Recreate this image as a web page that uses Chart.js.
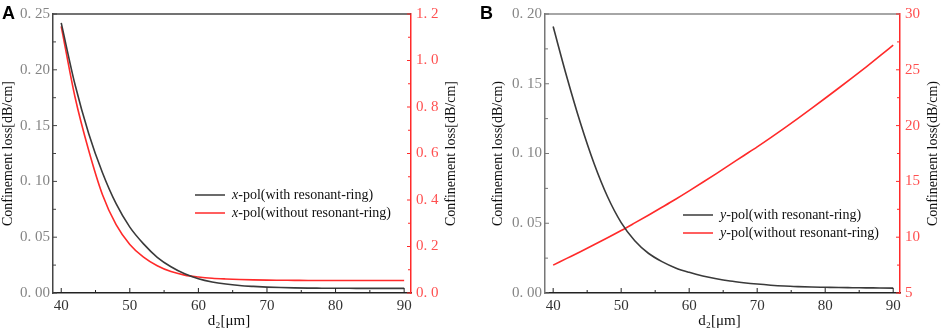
<!DOCTYPE html>
<html>
<head>
<meta charset="utf-8">
<script src="https://cdn.jsdelivr.net/npm/chart.js@4.4.0/dist/chart.umd.min.js"></script>
<style>
  body { margin: 0; background: #fff; width: 941px; height: 329px; overflow: hidden; position: relative; }
  .panel { position: absolute; top: 0; height: 329px; }
  #pa { left: 0; width: 470px; }
  #pb { left: 470px; width: 471px; }
</style>
</head>
<body>
<div class="panel" id="pa"><canvas id="ca"></canvas></div>
<div class="panel" id="pb"><canvas id="cb"></canvas></div>
<script>
// d2 values (um), shared by both panels
const d2 = [40, 42, 44, 46, 48, 50, 52, 54, 56, 58, 60, 62, 64, 66, 68, 70, 72, 74, 76, 78, 80, 82, 84, 86, 88, 90];

// panel A: x-pol
const xPolWithRing = [0.242, 0.187, 0.143, 0.108, 0.080, 0.059, 0.044, 0.032, 0.0235, 0.0172, 0.0128, 0.0099, 0.0080, 0.0067, 0.0059, 0.0053,
  0.0049, 0.0046, 0.0044, 0.0043, 0.0042, 0.0042, 0.0041, 0.0041, 0.0041, 0.0041];
const xPolWithoutRing = [1.147, 0.844, 0.614, 0.424, 0.294, 0.209, 0.154, 0.117, 0.092, 0.077, 0.069, 0.0635, 0.0603, 0.058, 0.0565, 0.0555,
  0.055, 0.0545, 0.054, 0.054, 0.054, 0.054, 0.054, 0.054, 0.054, 0.054];

// panel B: y-pol
const yPolWithRing = [0.191, 0.155, 0.122, 0.093, 0.069, 0.0505, 0.0375, 0.0285, 0.0225, 0.018, 0.0148, 0.0122, 0.0102, 0.0086, 0.0074, 0.0064,
  0.0056, 0.0050, 0.0046, 0.0043, 0.0041, 0.0039, 0.0038, 0.0037, 0.0036, 0.0035];
const yPolWithoutRing = [7.5, 8.1, 8.7, 9.32, 9.95, 10.6, 11.28, 11.97, 12.68, 13.4, 14.15, 14.92, 15.7, 16.5, 17.3, 18.1,
  18.93, 19.78, 20.65, 21.54, 22.45, 23.37, 24.3, 25.25, 26.22, 27.2];

// tick values
const xTicks = [40, 50, 60, 70, 80, 90];
const leftTicksA = [0, 0.05, 0.10, 0.15, 0.20, 0.25];
const rightTicksA = [0, 0.2, 0.4, 0.6, 0.8, 1.0, 1.2];
const leftTicksB = [0, 0.05, 0.10, 0.15, 0.20];
const rightTicksB = [5, 10, 15, 20, 25, 30];

const SERIF = '"Liberation Serif", "DejaVu Serif", serif';
const RED = '#ff2a2a';

function pts(ys) {
  return d2.map((x, i) => ({ x: x, y: ys[i] }));
}

function line(ctx, x1, y1, x2, y2) {
  ctx.beginPath();
  ctx.moveTo(x1, y1);
  ctx.lineTo(x2, y2);
  ctx.stroke();
}

function decor(opt) {
  return {
    id: 'decor',
    afterDraw(chart) {
      const ctx = chart.ctx;
      const a = chart.chartArea;
      const sx = chart.scales.x, sy = chart.scales.y, sy2 = chart.scales.y2;
      ctx.save();

      // top frame line
      ctx.strokeStyle = opt.topColor;
      ctx.lineWidth = 1.5;
      line(ctx, a.left, a.top, a.right, a.top);

      // inward tick marks
      ctx.lineWidth = 1;
      ctx.strokeStyle = '#222';
      for (let v = 40; v <= 90; v += 5) {
        const p = sx.getPixelForValue(v);
        line(ctx, p, a.bottom, p, a.bottom - (v % 10 === 0 ? 5 : 3));
      }
      ctx.strokeStyle = opt.leftColor;
      for (let i = 0; i <= opt.leftMinorCount; i++) {
        const v = sy.min + i * opt.leftMinor;
        const p = sy.getPixelForValue(v);
        line(ctx, a.left, p, a.left + (i % 2 === 0 ? 4 : 3), p);
      }
      ctx.strokeStyle = RED;
      for (let i = 0; i <= opt.rightMinorCount; i++) {
        const v = sy2.min + i * opt.rightMinor;
        const p = sy2.getPixelForValue(v);
        line(ctx, a.right, p, a.right - (i % 2 === 0 ? 4 : 3), p);
      }

      // axis titles
      const cy = (a.top + a.bottom) / 2;
      ctx.fillStyle = '#111';
      ctx.font = '14px ' + SERIF;
      ctx.textAlign = 'center';
      ctx.textBaseline = 'middle';
      ctx.save();
      ctx.translate(opt.leftTitleX, cy);
      ctx.rotate(-Math.PI / 2);
      ctx.fillText(opt.leftTitle, 0, 0);
      ctx.restore();
      ctx.save();
      ctx.translate(opt.rightTitleX, cy);
      ctx.rotate(-Math.PI / 2);
      ctx.fillText(opt.rightTitle, 0, 0);
      ctx.restore();
      ctx.font = '15px ' + SERIF;
      ctx.fillText('d\u2082[\u03bcm]', (a.left + a.right) / 2 - 3, 321);

      // panel letter
      ctx.font = 'bold 18px "Liberation Sans", Arial, sans-serif';
      ctx.textAlign = 'left';
      ctx.textBaseline = 'alphabetic';
      ctx.fillStyle = '#000';
      ctx.fillText(opt.letter, opt.letterX, 19);

      // legend
      ctx.textBaseline = 'middle';
      opt.legend.forEach((item, i) => {
        const y = opt.legendY + i * 18;
        ctx.strokeStyle = item.color;
        ctx.lineWidth = 1.5;
        line(ctx, opt.legendX, y, opt.legendX + 30, y);
        let tx = opt.legendX + 37;
        ctx.fillStyle = '#111';
        ctx.font = 'italic 14px ' + SERIF;
        ctx.fillText(item.sym, tx, y);
        tx += ctx.measureText(item.sym).width;
        ctx.font = '14px ' + SERIF;
        ctx.fillText(item.text, tx, y);
      });
      ctx.restore();
    }
  };
}

function makeChart(id, o) {
  return new Chart(document.getElementById(id), {
    type: 'line',
    data: {
      datasets: [
        { data: pts(o.black), yAxisID: 'y', borderColor: '#3a3a3a', borderWidth: 1.6, pointRadius: 0, cubicInterpolationMode: 'monotone' },
        { data: pts(o.red), yAxisID: 'y2', borderColor: RED, borderWidth: 1.6, pointRadius: 0, cubicInterpolationMode: 'monotone' }
      ]
    },
    options: {
      responsive: true,
      maintainAspectRatio: false,
      animation: false,
      layout: { padding: { top: 5, left: 0, right: 0, bottom: 0 } },
      plugins: { legend: { display: false }, tooltip: { enabled: false } },
      scales: {
        x: {
          type: 'linear', min: 38.8, max: 91,
          grid: { display: false, drawTicks: false },
          border: { color: '#222', width: 1.5 },
          afterBuildTicks: s => { s.ticks = xTicks.map(v => ({ value: v })); },
          afterFit: s => { s.height = 36; },
          ticks: { padding: 4, color: '#333', font: { family: SERIF, size: 15 } }
        },
        y: {
          type: 'linear', position: 'left', min: o.leftMin, max: o.leftMax,
          grid: { display: false, drawTicks: false },
          border: { color: o.leftColor, width: 1.5 },
          afterBuildTicks: s => { s.ticks = o.leftTicks.map(v => ({ value: v })); },
          afterFit: s => { s.width = o.leftWidth; },
          ticks: { padding: 3, color: '#858585', font: { family: SERIF, size: 15 },
            callback: v => v.toFixed(2).replace('.', '. ') }
        },
        y2: {
          type: 'linear', position: 'right', min: o.rightMin, max: o.rightMax,
          grid: { display: false, drawTicks: false },
          border: { color: RED, width: 1.5 },
          afterBuildTicks: s => { s.ticks = o.rightTicks.map(v => ({ value: v })); },
          afterFit: s => { s.width = o.rightWidth; },
          ticks: { padding: 5, color: '#ff5050', font: { family: SERIF, size: 15 },
            callback: o.rightFormat }
        }
      }
    },
    plugins: [decor(o.decor)]
  });
}

makeChart('ca', {
  black: xPolWithRing, red: xPolWithoutRing,
  leftMin: 0, leftMax: 0.25, leftTicks: leftTicksA, leftWidth: 53, leftColor: '#444',
  rightMin: 0, rightMax: 1.2, rightTicks: rightTicksA, rightWidth: 59,
  rightFormat: v => v.toFixed(1).replace('.', '. '),
  decor: {
    topColor: '#444', leftColor: '#444',
    leftMinor: 0.025, leftMinorCount: 10, rightMinor: 0.1, rightMinorCount: 12,
    leftTitle: 'Confinement loss[dB/cm]', leftTitleX: 8,
    rightTitle: 'Confinement loss[dB/cm]', rightTitleX: 451,
    letter: 'A', letterX: 2,
    legendX: 195, legendY: 195,
    legend: [
      { color: '#3a3a3a', sym: 'x', text: '-pol(with resonant-ring)' },
      { color: RED, sym: 'x', text: '-pol(without resonant-ring)' }
    ]
  }
});

makeChart('cb', {
  black: yPolWithRing, red: yPolWithoutRing,
  leftMin: 0, leftMax: 0.20, leftTicks: leftTicksB, leftWidth: 75, leftColor: '#777',
  rightMin: 5, rightMax: 30, rightTicks: rightTicksB, rightWidth: 41,
  rightFormat: v => String(v),
  decor: {
    topColor: '#888', leftColor: '#777',
    leftMinor: 0.025, leftMinorCount: 8, rightMinor: 2.5, rightMinorCount: 10,
    leftTitle: 'Confinement loss(dB/cm)', leftTitleX: 28,
    rightTitle: 'Confinement loss(dB/cm)', rightTitleX: 463,
    letter: 'B', letterX: 10,
    legendX: 213, legendY: 215,
    legend: [
      { color: '#3a3a3a', sym: 'y', text: '-pol(with resonant-ring)' },
      { color: RED, sym: 'y', text: '-pol(without resonant-ring)' }
    ]
  }
});
</script>
</body>
</html>
